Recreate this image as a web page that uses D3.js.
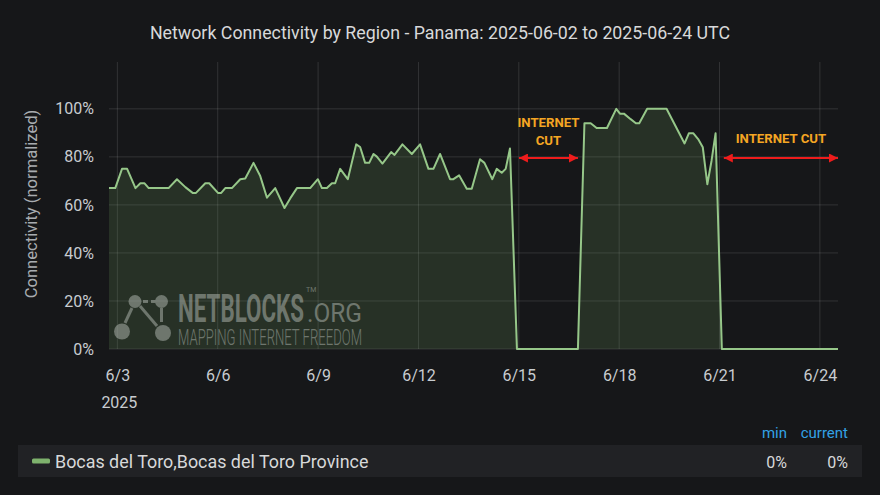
<!DOCTYPE html>
<html><head><meta charset="utf-8">
<script src="https://cdn.jsdelivr.net/npm/d3@7"></script>
<style>
html,body{margin:0;padding:0;background:#161719;}
svg{display:block;font-family:Roboto,"Noto Sans",sans-serif;}
</style></head><body>
<svg id="c" width="880" height="495"></svg>
<script>
const times = [
"2025-06-02T18:00","2025-06-02T22:30","2025-06-03T03:20","2025-06-03T07:00","2025-06-03T13:00",
"2025-06-03T16:30","2025-06-03T19:30","2025-06-03T22:30","2025-06-04T12:45","2025-06-04T18:45",
"2025-06-05T00:45","2025-06-05T06:00","2025-06-05T08:25","2025-06-05T15:05","2025-06-05T17:55",
"2025-06-06T00:10","2025-06-06T02:30","2025-06-06T05:25","2025-06-06T10:10","2025-06-06T16:10",
"2025-06-06T19:45","2025-06-07T01:40","2025-06-07T06:30","2025-06-07T11:20","2025-06-07T17:15",
"2025-06-07T23:55","2025-06-08T04:00","2025-06-08T08:50","2025-06-08T18:20","2025-06-08T23:50",
"2025-06-09T02:45","2025-06-09T06:20","2025-06-09T09:55","2025-06-09T12:15","2025-06-09T15:50",
"2025-06-09T21:20","2025-06-10T03:20","2025-06-10T06:10","2025-06-10T09:45","2025-06-10T12:40",
"2025-06-10T15:45","2025-06-10T18:10","2025-06-10T22:10","2025-06-11T04:25","2025-06-11T06:50",
"2025-06-11T12:30","2025-06-11T19:15","2025-06-12T01:10","2025-06-12T07:10","2025-06-12T10:45",
"2025-06-12T15:30","2025-06-12T22:40","2025-06-13T01:05","2025-06-13T05:10","2025-06-13T10:40",
"2025-06-13T14:15","2025-06-13T20:10","2025-06-13T23:20","2025-06-14T05:00","2025-06-14T08:10",
"2025-06-14T11:45","2025-06-14T14:35","2025-06-14T17:40","2025-06-14T22:40","2025-06-16T18:25",
"2025-06-16T23:05","2025-06-17T03:35","2025-06-17T07:50","2025-06-17T15:15","2025-06-17T21:55",
"2025-06-18T00:35","2025-06-18T03:25","2025-06-18T08:15","2025-06-18T12:00","2025-06-18T14:25",
"2025-06-18T20:05","2025-06-19T10:00","2025-06-19T22:55","2025-06-20T02:00","2025-06-20T05:15",
"2025-06-20T08:40","2025-06-20T12:00","2025-06-20T15:15","2025-06-20T18:15","2025-06-20T21:10",
"2025-06-21T01:40","2025-06-24T13:00"
];
const values = [
67,67,75,75,67,
69,69,67,67,70.7,
67.4,65,65,69,69,
65,65,67,67,70.7,
71,77.5,72,63,67,
58.7,62.7,67,67,70.7,
67,67,69,69,75,
70.7,85.2,84.1,77.5,77.5,
81.2,80.1,77.2,82,80.8,
85.2,81.2,85.2,75,75,
81.2,70.7,70.7,72.3,66.7,
66.7,79,77.5,70.7,75,
73.4,75,83.5,0,0,
94,94,92,92,100,
98,98,95.7,94,94,
100,100,85.6,89.8,89.8,
87.4,84,68.6,78.3,89.8,
0,0
];
const yTicks = [0,20,40,60,80,100];
const xTickDates = ["2025-06-03","2025-06-06","2025-06-09","2025-06-12","2025-06-15","2025-06-18","2025-06-21","2025-06-24"];
const timeDomain = ["2025-06-02T18:00","2025-06-24T13:00"];
const seriesName = "Bocas del Toro,Bocas del Toro Province";
const cuts = [
  {from:"2025-06-14T22:40", to:"2025-06-16T18:25", lines:["INTERNET","CUT"]},
  {from:"2025-06-21T01:40", to:"2025-06-24T13:00", lines:["INTERNET CUT"]}
];

const parse = d3.utcParse("%Y-%m-%dT%H:%M");
const parseDay = d3.utcParse("%Y-%m-%d");
const data = times.map((t,i)=>({t:parse(t), v:values[i]}));

const svg = d3.select("#c");
const W=880,H=495;
const L=109,R=838,T=62,B=349;

const x = d3.scaleUtc().domain(timeDomain.map(parse)).range([L,R]);
const y = d3.scaleLinear().domain([0,119.5]).range([B,T]);

svg.append("rect").attr("width",W).attr("height",H).attr("fill","#161719");

// title
svg.append("text").attr("x",440).attr("y",39).attr("text-anchor","middle")
  .attr("fill","#d8d9da").attr("font-size",17.8).text("Network Connectivity by Region - Panama: 2025-06-02 to 2025-06-24 UTC");

// grid
const grid = svg.append("g");
grid.selectAll("line.h").data(yTicks).join("line")
  .attr("x1",L).attr("x2",R).attr("y1",d=>y(d)).attr("y2",d=>y(d))
  .attr("stroke","rgba(255,255,255,0.12)").attr("stroke-width",1);
const xt = xTickDates.map(parseDay);
grid.selectAll("line.v").data(xt).join("line")
  .attr("x1",d=>x(d)).attr("x2",d=>x(d)).attr("y1",T).attr("y2",B)
  .attr("stroke","rgba(255,255,255,0.12)").attr("stroke-width",1);

// area + line
const area = d3.area().x(d=>x(d.t)).y0(y(0)).y1(d=>y(d.v));
const line = d3.line().x(d=>x(d.t)).y(d=>y(d.v));
svg.append("path").datum(data).attr("d",area).attr("fill","rgba(126,178,109,0.17)");

// watermark logo
const logo = svg.append("g").attr("opacity",0.5).attr("fill","#b4bbb4");
const nodes = [[135,301.5,6.5],[161.5,301.5,6.5],[122,331.5,8],[163,333,8]];
logo.append("line").attr("x1",135).attr("y1",301.5).attr("x2",161.5).attr("y2",301.5).attr("stroke","#b4bbb4").attr("stroke-width",3).attr("stroke-dasharray","5,3");
logo.append("line").attr("x1",132).attr("y1",308).attr("x2",125).attr("y2",323).attr("stroke","#b4bbb4").attr("stroke-width",3);
logo.append("line").attr("x1",140).attr("y1",306).attr("x2",157).attr("y2",326).attr("stroke","#b4bbb4").attr("stroke-width",3);
logo.append("line").attr("x1",161.5).attr("y1",308).attr("x2",161.5).attr("y2",322).attr("stroke","#b4bbb4").attr("stroke-width",3);
logo.selectAll("circle").data(nodes).join("circle").attr("cx",d=>d[0]).attr("cy",d=>d[1]).attr("r",d=>d[2]);
logo.append("text").attr("x",178).attr("y",322).attr("font-size",38).attr("font-weight",700)
  .attr("textLength",126).attr("lengthAdjust","spacingAndGlyphs").text("NETBLOCKS");
logo.append("text").attr("x",306).attr("y",292).attr("font-size",7).text("TM");
logo.append("text").attr("x",307).attr("y",322).attr("font-size",26)
  .attr("textLength",55).attr("lengthAdjust","spacingAndGlyphs").text(".ORG");
logo.append("text").attr("x",178).attr("y",345).attr("font-size",22).attr("font-weight",300)
  .attr("textLength",184).attr("lengthAdjust","spacingAndGlyphs").text("MAPPING INTERNET FREEDOM");

svg.append("path").datum(data).attr("d",line).attr("fill","none")
  .attr("stroke","#96c789").attr("stroke-width",2).attr("stroke-linejoin","round");

// y axis
const yAxis = d3.axisLeft(y).tickValues(yTicks).tickSize(0).tickPadding(0).tickFormat(d=>d+"%");
const ya = svg.append("g").attr("transform",`translate(94,0)`).call(yAxis);
ya.select(".domain").remove();
ya.selectAll("text").attr("fill","#c8ccd0").attr("font-size",16).attr("font-family","Roboto");

svg.append("text").attr("transform","translate(37,204) rotate(-90)").attr("text-anchor","middle")
  .attr("fill","#a8acb0").attr("font-size",16.6).text("Connectivity (normalized)");

// x axis
const xAxis = d3.axisBottom(x).tickValues(xt).tickSize(0).tickPadding(0).tickFormat(d3.utcFormat("%-m/%-d"));
const xa = svg.append("g").attr("transform",`translate(0,${B+21})`).call(xAxis);
xa.select(".domain").remove();
xa.selectAll("text").attr("fill","#c8ccd0").attr("font-size",16).attr("font-family","Roboto");
svg.append("text").attr("x",x(xt[0])+2).attr("y",408).attr("text-anchor","middle")
  .attr("fill","#c8ccd0").attr("font-size",16).text(d3.utcFormat("%Y")(xt[0]));

// annotations
const defs = svg.append("defs");
defs.append("marker").attr("id","ah").attr("viewBox","0 0 10 10").attr("refX",10).attr("refY",5)
  .attr("markerWidth",9).attr("markerHeight",9).attr("markerUnits","userSpaceOnUse").attr("orient","auto-start-reverse")
  .append("path").attr("d","M0,0 L10,5 L0,10 Z").attr("fill","#ee1c1c");
const ann = svg.append("g");
cuts.forEach(c=>{
  const x1 = x(parse(c.from))+2, x2 = x(parse(c.to));
  ann.append("line").attr("x1",x1).attr("x2",x2).attr("y1",158).attr("y2",158)
    .attr("stroke","#ee1c1c").attr("stroke-width",2)
    .attr("marker-start","url(#ah)").attr("marker-end","url(#ah)");
  const cx=(x1+x2)/2;
  const y0 = c.lines.length===2 ? 127 : 143;
  c.lines.forEach((s,i)=>{
    ann.append("text").attr("x",cx).attr("y",y0+i*18).attr("text-anchor","middle")
      .attr("fill","#f5a623").attr("font-size",13.2).attr("font-weight",700).attr("font-family","Roboto").text(s);
  });
});

// legend
const vmin = d3.min(values), vcur = values[values.length-1];
svg.append("text").attr("x",787).attr("y",438).attr("text-anchor","end").attr("fill","#33a2e5").attr("font-size",15).text("min");
svg.append("text").attr("x",848).attr("y",438).attr("text-anchor","end").attr("fill","#33a2e5").attr("font-size",15).text("current");
svg.append("rect").attr("x",18).attr("y",445).attr("width",844).attr("height",32).attr("fill","#212225");
svg.append("rect").attr("x",32).attr("y",458.5).attr("width",18).attr("height",5).attr("rx",1.5).attr("fill","#7eb26d");
svg.append("text").attr("x",55).attr("y",468).attr("fill","#d8d9da").attr("font-size",17.9).text(seriesName);
svg.append("text").attr("x",787).attr("y",468).attr("text-anchor","end").attr("fill","#d8d9da").attr("font-size",16).text(vmin+"%");
svg.append("text").attr("x",848).attr("y",468).attr("text-anchor","end").attr("fill","#d8d9da").attr("font-size",16).text(vcur+"%");
</script>
</body></html>
